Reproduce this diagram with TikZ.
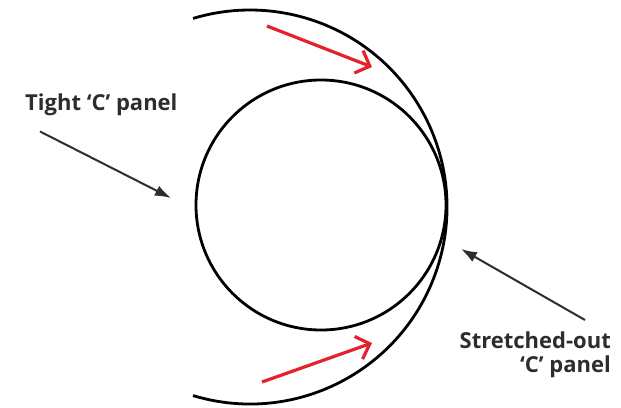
\documentclass[tikz,border=0pt]{standalone}
\usepackage{fontspec}
\setmainfont{Open Sans}
\usepackage{xcolor}
\usetikzlibrary{arrows.meta,positioning}

\definecolor{panelred}{RGB}{228,34,44}
\definecolor{labelgray}{RGB}{45,45,45}

\tikzset{
  panel/.style={line width=2.8pt, draw=black},
  pointer/.style={line width=2pt, draw=labelgray, -{Latex[length=16pt,width=11pt]}},
  pull/.style={line width=3.2pt, draw=panelred, -{Straight Barb[length=12pt,width=24pt,line width=3.2pt]}},
  callout/.style={font=\bfseries\fontsize{22}{24}\selectfont, text=labelgray, inner sep=0pt}
}

\begin{document}
\begin{tikzpicture}[x=1pt,y=-1pt]
    \useasboundingbox (0,0) rectangle (621,407);
    % tight panel (inner) and stretched-out panel (outer arc)
    \draw[panel] (321,205) circle (125);
    \draw[panel] (250,207) ++(106.8:197) arc[start angle=106.8, end angle=-106.8, radius=197];
    % red pull arrows
    \coordinate (toptail) at (267,26);
    \coordinate (toptip) at (372,67);
    \coordinate (bottail) at (262,382);
    \coordinate (bottip) at (372,343);
    \draw[pull] (toptail) -- (toptip);
    \draw[pull] (bottail) -- (bottip);
    % labels
    \node[callout, anchor=base west] (tight) at (25,110) {Tight `C' panel};
    \node[callout, anchor=north east, align=right] (stretched) at (611,332) {Stretched-out\\`C' panel};
    \coordinate (tighttip) at (171,198);
    \coordinate (stretchedtip) at (461,249);
    \draw[pointer] ([xshift=15pt,yshift=-16pt]tight.south west) -- (tighttip);
    \draw[pointer] ([xshift=-26pt,yshift=12pt]stretched.north east) -- (stretchedtip);
\end{tikzpicture}
\end{document}
